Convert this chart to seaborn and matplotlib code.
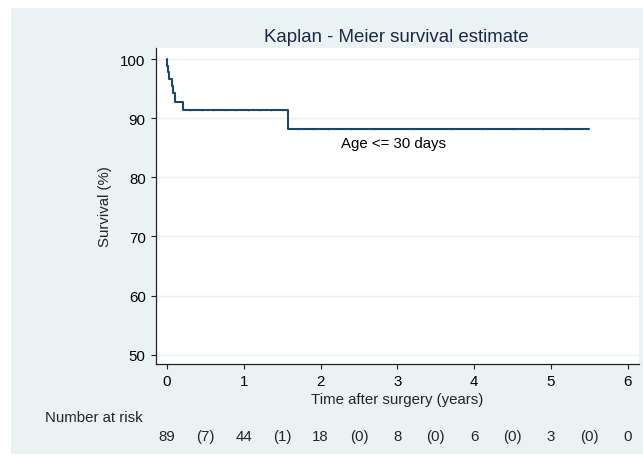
import numpy as np
import pandas as pd
import matplotlib
matplotlib.use("Agg")
import matplotlib.pyplot as plt
import seaborn as sns
from matplotlib.patches import Rectangle

# Kaplan-Meier step curve
times = [0, 0.005, 0.01, 0.02, 0.06, 0.08, 0.11, 0.21, 1.575, 5.5]
survival = [100, 98.9, 97.8, 96.7, 95.5, 94.2, 92.8, 91.4, 88.2, 88.2]

# censoring ticks (small marks on the curve)
censor_t = [0.3, 0.45, 0.6, 0.75, 0.9, 1.05, 1.2, 1.35, 1.5, 1.7, 1.9, 2.1, 2.4, 2.7, 3.2, 3.7, 4.1, 4.5, 4.9, 5.2]
censor_s = [91.4] * 9 + [88.2] * 11

risk_times = [0, 0.5, 1, 1.5, 2, 2.5, 3, 3.5, 4, 4.5, 5, 5.5, 6]
risk_labels = ["89", "(7)", "44", "(1)", "18", "(0)", "8", "(0)", "6", "(0)", "3", "(0)", "0"]

sns.set_style("ticks")
plt.rcParams['font.family'] = ['Liberation Sans', 'DejaVu Sans']

navy = "#1a476f"
bg = "#eaf2f3"
fs = 10.8

fig = plt.figure(figsize=(6.43, 4.56), dpi=100)
fig.patch.set_facecolor("white")
fig.patches.append(Rectangle((11 / 643, 1 / 456), 1 - 11 / 643, 1 - 10 / 456,
                             transform=fig.transFigure, facecolor=bg, edgecolor="none", zorder=-5))

ax = fig.add_axes([155.5 / 643, (456 - 364.5) / 456, (638.5 - 155.5) / 643, (364.5 - 49) / 456])
ax.set_zorder(2)
ax.set_facecolor("white")

df = pd.DataFrame({"t": times, "s": survival})
sns.lineplot(data=df, x="t", y="s", drawstyle="steps-post", color=navy, lw=1.5,
             estimator=None, sort=False, ax=ax)
ax.plot(censor_t, censor_s, linestyle="none", marker="|", markersize=1.8, color=navy, mew=0.5, alpha=0.7)

ax.set_xlim(-0.15, 6.14)
ax.set_ylim(48.5, 101.9)
ax.set_xticks(range(0, 7))
ax.set_yticks(range(50, 101, 10))
ax.yaxis.grid(True, color=bg, lw=1.0)
ax.set_axisbelow(True)

for side in ["top", "right"]:
    ax.spines[side].set_visible(False)
for side in ["left", "bottom"]:
    ax.spines[side].set_color("#222222")
    ax.spines[side].set_linewidth(0.9)

ax.tick_params(axis="both", direction="out", length=3.6, width=0.8, color="#222222",
               labelsize=fs, labelcolor="black")
ax.tick_params(axis="x", pad=4.2)
ax.tick_params(axis="y", pad=3.5)

ax.set_xlabel("Time after surgery (years)", fontsize=fs, labelpad=2.5)
ax.set_ylabel("Survival (%)", fontsize=fs, labelpad=6)

ax.text(2.26, 85.9, "Age <= 30 days", fontsize=fs, ha="left", va="center", color="black")

fig.text(396.5 / 643, (456 - 37.5) / 456, "Kaplan - Meier survival estimate",
         fontsize=13.4, ha="center", va="center", color="#1c2a48")

# number at risk row
fig.text(45 / 643, (456 - 418) / 456, "Number at risk", fontsize=fs, ha="left", va="center")
trans = ax.get_xaxis_transform()
for t, lab in zip(risk_times, risk_labels):
    ax.text(t, -(437 - 364.5) / (364.5 - 49), lab, transform=trans, fontsize=fs,
            ha="center", va="center", clip_on=False)

fig.savefig("out.png", dpi=100)
